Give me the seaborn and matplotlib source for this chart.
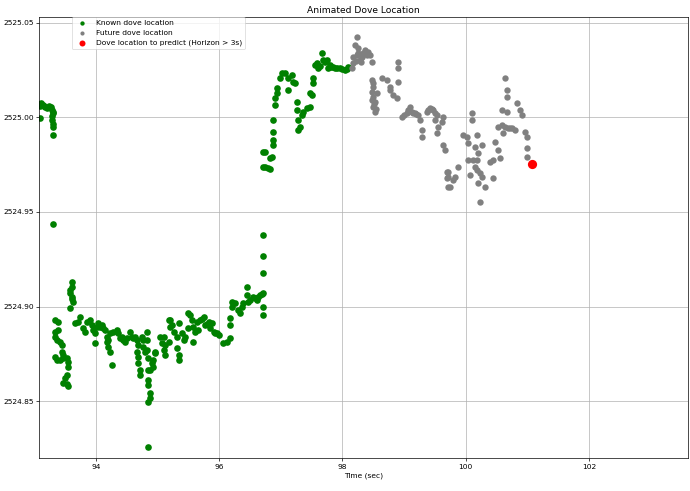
import matplotlib
matplotlib.use("Agg")
import matplotlib.pyplot as plt
import seaborn as sns
from matplotlib.ticker import FormatStrFormatter

# known track (green)
known_t = [
    93.097, 93.097, 93.113, 93.145, 93.178, 93.210, 93.243, 93.275, 93.291, 93.307,
    93.291, 93.291, 93.307, 93.307, 93.307, 93.307, 93.335, 93.388, 93.335, 93.388,
    93.335, 93.361, 93.416, 93.442, 93.442, 93.470, 93.335, 93.361, 93.416, 93.470,
    93.523, 93.551, 93.551, 93.523, 93.497, 93.470, 93.523, 93.539, 93.604, 93.604,
    93.583, 93.578, 93.604, 93.615, 93.632, 93.578, 93.659, 93.713, 93.740, 93.794,
    93.821, 93.847, 93.902, 93.928, 93.956, 93.984, 93.984, 94.010, 94.037, 94.065,
    94.091, 94.118, 94.146, 94.172, 94.172, 94.199, 94.227, 94.253, 94.199, 94.227,
    94.280, 94.334, 94.361, 94.389, 94.415, 94.442, 94.470, 94.496, 94.551, 94.577,
    94.605, 94.632, 94.658, 94.686, 94.658, 94.686, 94.686, 94.713, 94.713, 94.739,
    94.767, 94.767, 94.794, 94.820, 94.820, 94.820, 94.848, 94.848, 94.848, 94.848,
    94.875, 94.875, 94.848, 94.848, 94.880, 94.901, 94.929, 94.957, 94.929, 94.961,
    95.042, 95.070, 95.096, 95.096, 95.123, 95.123, 95.177, 95.177, 95.204, 95.204,
    95.232, 95.258, 95.313, 95.339, 95.313, 95.339, 95.339, 95.394, 95.420, 95.448,
    95.501, 95.501, 95.529, 95.556, 95.582, 95.582, 95.610, 95.637, 95.663, 95.691,
    95.745, 95.772, 95.826, 95.853, 95.881, 95.907, 95.962, 95.988, 96.069, 96.124,
    96.178, 96.178, 96.178, 96.205, 96.205, 96.259, 96.312, 96.340, 96.367, 96.393,
    96.448, 96.448, 96.474, 96.502, 96.555, 96.610, 96.664, 96.717, 96.717, 96.717,
    96.717, 96.717, 96.717, 96.717, 96.717, 96.745, 96.799, 96.826, 96.745, 96.826,
    96.853, 96.880, 96.880, 96.880, 96.880, 96.907, 96.907, 96.935, 96.935, 96.988,
    97.016, 97.069, 97.123, 97.123, 97.178, 97.204, 97.231, 97.259, 97.259, 97.285,
    97.313, 97.285, 97.340, 97.366, 97.421, 97.475, 97.475, 97.502, 97.528, 97.528,
    97.556, 97.583, 97.609, 97.664, 97.690, 97.745, 97.772, 97.799, 97.853, 97.908,
    97.961, 98.042, 98.096,
    93.120, 93.160, 93.260, 93.300, 95.720, 95.800, 95.930, 96.580, 96.630, 96.690,
    97.630, 97.720, 97.820, 97.880, 98.000, 98.070,
]
known_loc = [
    2525.0060, 2524.9996, 2525.0076, 2525.0065, 2525.0054, 2525.0049, 2525.0060, 2525.0054, 2525.0039, 2525.0023,
    2525.0007, 2524.9986, 2524.9965, 2524.9949, 2524.9907, 2524.9436, 2524.8929, 2524.8920, 2524.8867, 2524.8876,
    2524.8840, 2524.8823, 2524.8814, 2524.8797, 2524.8761, 2524.8744, 2524.8735, 2524.8717, 2524.8717, 2524.8728,
    2524.8728, 2524.8708, 2524.8682, 2524.8638, 2524.8621, 2524.8597, 2524.8591, 2524.8580, 2524.9131, 2524.9105,
    2524.9087, 2524.9070, 2524.9052, 2524.9039, 2524.9026, 2524.8991, 2524.8911, 2524.8920, 2524.8946, 2524.8885,
    2524.8867, 2524.8920, 2524.8929, 2524.8902, 2524.8876, 2524.8858, 2524.8809, 2524.8893, 2524.8911, 2524.8893,
    2524.8902, 2524.8885, 2524.8876, 2524.8840, 2524.8814, 2524.8788, 2524.8761, 2524.8691, 2524.8823, 2524.8858,
    2524.8867, 2524.8876, 2524.8858, 2524.8832, 2524.8840, 2524.8823, 2524.8814, 2524.8832, 2524.8867, 2524.8840,
    2524.8832, 2524.8840, 2524.8823, 2524.8797, 2524.8761, 2524.8735, 2524.8700, 2524.8665, 2524.8638, 2524.8840,
    2524.8823, 2524.8788, 2524.8761, 2524.8867, 2524.8823, 2524.8770, 2524.8726, 2524.8665, 2524.8612, 2524.8585,
    2524.8541, 2524.8515, 2524.8497, 2524.8259, 2524.8665, 2524.8700, 2524.8717, 2524.8753, 2524.8682, 2524.8761,
    2524.8840, 2524.8806, 2524.8840, 2524.8770, 2524.8797, 2524.8744, 2524.8814, 2524.8929, 2524.8929, 2524.8893,
    2524.8902, 2524.8867, 2524.8840, 2524.8911, 2524.8779, 2524.8744, 2524.8717, 2524.8858, 2524.8823, 2524.8840,
    2524.8885, 2524.8964, 2524.8955, 2524.8929, 2524.8893, 2524.8814, 2524.8867, 2524.8920, 2524.8876, 2524.8929,
    2524.8946, 2524.8902, 2524.8920, 2524.8885, 2524.8911, 2524.8867, 2524.8858, 2524.8849, 2524.8806, 2524.8814,
    2524.8832, 2524.8902, 2524.8938, 2524.8999, 2524.9026, 2524.9017, 2524.8982, 2524.8964, 2524.8999, 2524.9017,
    2524.9105, 2524.9061, 2524.9026, 2524.9034, 2524.9052, 2524.9034, 2524.9061, 2524.9070, 2524.8999, 2524.8955,
    2524.9176, 2524.9267, 2524.9378, 2524.9739, 2524.9818, 2524.9739, 2524.9731, 2524.9783, 2524.9818, 2524.9727,
    2524.9792, 2524.9880, 2524.9854, 2524.9924, 2524.9986, 2525.0065, 2525.0100, 2525.0127, 2525.0153, 2525.0206,
    2525.0233, 2525.0233, 2525.0206, 2525.0144, 2525.0224, 2525.0188, 2525.0180, 2525.0083, 2525.0039, 2524.9986,
    2524.9950, 2524.9933, 2525.0012, 2525.0030, 2525.0048, 2525.0056, 2525.0127, 2525.0118, 2525.0180, 2525.0206,
    2525.0276, 2525.0285, 2525.0259, 2525.0341, 2525.0303, 2525.0303, 2525.0259, 2525.0276, 2525.0267, 2525.0259,
    2525.0259, 2525.0250, 2525.0267,
    2525.0068, 2525.0060, 2525.0057, 2525.0030, 2524.8935, 2524.8910, 2524.8860, 2524.9045, 2524.9050, 2524.9065,
    2525.0270, 2525.0290, 2525.0268, 2525.0262, 2525.0255, 2525.0258,
]

# future track (gray)
future_t = [
    98.151, 98.177, 98.177, 98.232, 98.205, 98.232, 98.258, 98.286, 98.313, 98.339,
    98.367, 98.420, 98.448, 98.475, 98.475, 98.475, 98.480, 98.501, 98.512, 98.529,
    98.501, 98.545, 98.529, 98.556, 98.637, 98.718, 98.772, 98.772, 98.826, 98.880,
    98.906, 98.906, 98.906, 98.961, 99.042, 99.096, 99.124, 99.177, 99.231, 99.258,
    99.286, 99.286, 99.367, 99.420, 99.474, 99.529, 99.501, 99.555, 99.529, 99.610,
    99.636, 99.636, 99.664, 99.691, 99.691, 99.717, 99.717, 99.717, 99.745, 99.799,
    99.826, 99.880, 99.961, 100.016, 100.042, 100.042, 100.069, 100.097, 100.097, 100.123,
    100.150, 100.178, 100.178, 100.204, 100.150, 100.178, 100.231, 100.259, 100.204, 100.312,
    100.231, 100.259, 100.393, 100.447, 100.474, 100.447, 100.528, 100.556, 100.528, 100.583,
    100.609, 100.637, 100.583, 100.664, 100.637, 100.664, 100.664, 100.690, 100.745, 100.799,
    100.827, 100.880, 100.907, 100.961, 100.989, 100.989, 100.989,
    98.220, 98.250, 98.300, 98.400, 98.490, 98.500, 99.000, 99.070, 99.150, 99.200,
    99.390, 99.450, 99.500, 100.720,
]
future_loc = [
    2525.0259, 2525.0285, 2525.0320, 2525.0329, 2525.0382, 2525.0426, 2525.0365, 2525.0303, 2525.0320, 2525.0338,
    2525.0356, 2525.0347, 2525.0329, 2525.0294, 2525.0197, 2525.0135, 2525.0091, 2525.0109, 2525.0070, 2525.0083,
    2525.0056, 2525.0044, 2525.0030, 2525.0127, 2525.0206, 2525.0197, 2525.0162, 2525.0144, 2525.0118, 2525.0100,
    2525.0294, 2525.0259, 2525.0188, 2525.0003, 2525.0021, 2525.0056, 2525.0030, 2525.0021, 2525.0012, 2524.9986,
    2524.9933, 2524.9898, 2525.0030, 2525.0048, 2525.0039, 2525.0012, 2524.9986, 2524.9950, 2524.9916, 2524.9977,
    2525.0003, 2524.9854, 2524.9827, 2524.9713, 2524.9678, 2524.9713, 2524.9686, 2524.9633, 2524.9633, 2524.9669,
    2524.9686, 2524.9739, 2524.9907, 2524.9898, 2524.9863, 2524.9774, 2524.9695, 2525.0021, 2524.9986, 2524.9774,
    2524.9845, 2524.9907, 2524.9774, 2524.9810, 2524.9739, 2524.9722, 2524.9704, 2524.9686, 2524.9651, 2524.9633,
    2524.9554, 2524.9854, 2524.9765, 2524.9774, 2524.9871, 2524.9678, 2524.9827, 2524.9783, 2524.9950, 2524.9959,
    2524.9916, 2524.9950, 2525.0039, 2525.0030, 2525.0206, 2525.0144, 2525.0109, 2524.9942, 2524.9942, 2524.9933,
    2525.0074, 2525.0039, 2525.0012, 2524.9924, 2524.9898, 2524.9836, 2524.9792,
    2525.0300, 2525.0340, 2525.0290, 2525.0330, 2525.0160, 2525.0180, 2525.0010, 2525.0040, 2525.0025, 2525.0018,
    2525.0040, 2525.0045, 2525.0025, 2524.9945,
]

# point to predict (red)
predict_t = [101.07]
predict_loc = [2524.9753]

x_ticks = [94, 96, 98, 100, 102]
y_ticks = [2524.85, 2524.90, 2524.95, 2525.00, 2525.05]


def plot_dove_location():
    plt.rcParams.update({
        "font.size": 5.4,
        "axes.titlesize": 6.6,
        "axes.linewidth": 0.5,
        "xtick.major.size": 2,
        "ytick.major.size": 2,
        "xtick.major.width": 0.5,
        "ytick.major.width": 0.5,
        "xtick.major.pad": 2,
        "ytick.major.pad": 2,
        "patch.linewidth": 0.5,
    })

    fig = plt.figure(figsize=(6.9, 4.91), dpi=100)
    ax = fig.add_axes([0.057, 0.0672, 0.9394, 0.8988])

    sns.scatterplot(x=known_t, y=known_loc, color="green", s=23, linewidth=0,
                    label="Known dove location", ax=ax)
    sns.scatterplot(x=future_t, y=future_loc, color="gray", s=21, linewidth=0,
                    label="Future dove location", ax=ax)
    sns.scatterplot(x=predict_t, y=predict_loc, color="red", s=44, linewidth=0,
                    label="Dove location to predict (Horizon > 3s)", ax=ax)

    ax.set_xlim(93.08, 103.6)
    ax.set_ylim(2524.820, 2525.0532)
    ax.set_xticks(x_ticks)
    ax.set_yticks(y_ticks)
    ax.yaxis.set_major_formatter(FormatStrFormatter("%.2f"))
    ax.grid(True, color="#b0b0b0", linewidth=0.5)
    ax.set_axisbelow(True)

    ax.set_title("Animated Dove Location", pad=3)
    ax.set_xlabel("Time (sec)", labelpad=2)
    ax.set_ylabel("")

    ax.legend(loc="upper left", bbox_to_anchor=(0.05, 1.0), borderaxespad=0,
              markerscale=0.65)
    return fig


fig = plot_dove_location()
fig.savefig("out.png", dpi=100)
